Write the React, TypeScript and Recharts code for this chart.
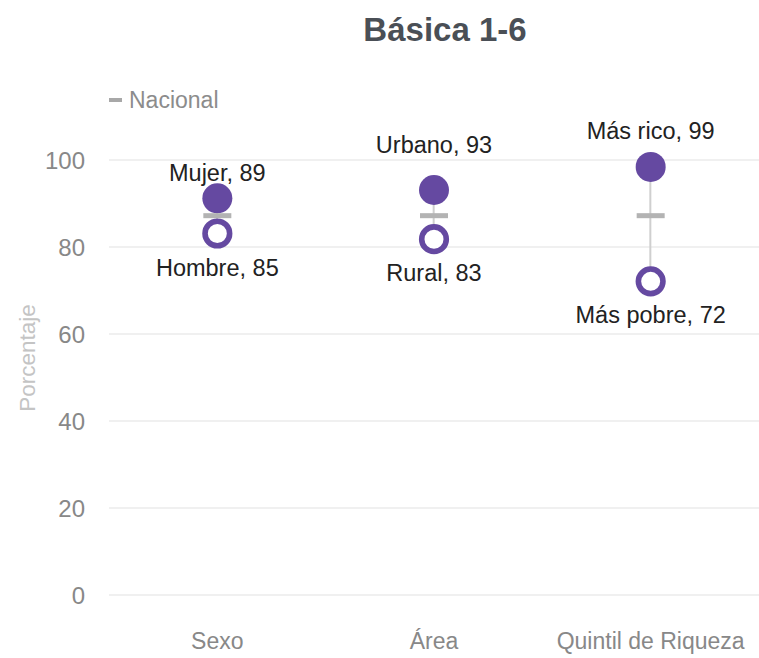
import React from 'react';
import { ComposedChart, Line, Bar, XAxis, YAxis, CartesianGrid } from 'recharts';

const categories = ['Sexo', 'Área', 'Quintil de Riqueza'];
const highValues = [91.2, 93.1, 98.4];
const lowValues = [83.1, 81.8, 72.1];
const nationalValues = [87.2, 87.2, 87.2];
const highLabels = ['Mujer, 89', 'Urbano, 93', 'Más rico, 99'];
const lowLabels = ['Hombre, 85', 'Rural, 83', 'Más pobre, 72'];
const yTicks = [0, 20, 40, 60, 80, 100];

// layout tweaks for label placement (pixels above / below the marker centre)
const topLabelLift = [25, 45, 36];
const bottomLabelDrop = 34;

const data = categories.map((c, i) => ({
  cat: c,
  high: highValues[i],
  low: lowValues[i],
  nat: nationalValues[i],
  range: [lowValues[i], highValues[i]],
}));

const PURPLE = '#6549a1';
const FONT = '"Liberation Sans", Arial, sans-serif';

const HighDot = (props: any) => {
  const { cx, cy, index } = props;
  if (cx == null || cy == null) return <g key={`h${index}`} />;
  return (
    <g key={`h${index}`}>
      <circle cx={cx} cy={cy} r={15} fill={PURPLE} />
      <text x={cx} y={cy - topLabelLift[index] + 8} textAnchor="middle" fontSize={23.5} fill="#222" fontFamily={FONT}>
        {highLabels[index]}
      </text>
    </g>
  );
};

const LowDot = (props: any) => {
  const { cx, cy, index } = props;
  if (cx == null || cy == null) return <g key={`l${index}`} />;
  return (
    <g key={`l${index}`}>
      <circle cx={cx} cy={cy} r={12.3} fill="#fff" stroke={PURPLE} strokeWidth={5.6} />
      <text x={cx} y={cy + bottomLabelDrop + 8} textAnchor="middle" fontSize={23.5} fill="#222" fontFamily={FONT}>
        {lowLabels[index]}
      </text>
    </g>
  );
};

const NatDot = (props: any) => {
  const { cx, cy, index } = props;
  if (cx == null || cy == null) return <g key={`n${index}`} />;
  return <rect key={`n${index}`} x={cx - 14} y={cy - 2.5} width={28} height={5} fill="#b3b3b3" />;
};

export default function App() {
  return (
    <div style={{ position: 'absolute', left: 0, top: 0, width: 759, height: 658, background: '#fff', fontFamily: FONT }}>
      <ComposedChart
        width={759}
        height={658}
        data={data}
        margin={{ top: 160, right: 0, bottom: 0, left: 0 }}
      >
        <CartesianGrid vertical={false} stroke="#ebebeb" strokeWidth={1.5} />
        <XAxis
          dataKey="cat"
          axisLine={false}
          tickLine={false}
          tickSize={0}
          tickMargin={38}
          height={63}
          interval={0}
          tick={{ fill: '#888', fontSize: 23, fontFamily: FONT }}
        />
        <YAxis
          domain={[0, 100]}
          ticks={yTicks}
          axisLine={false}
          tickLine={false}
          tickSize={0}
          tickMargin={24}
          width={109}
          tick={{ fill: '#888', fontSize: 24, fontFamily: FONT }}
        />
        <Bar dataKey="range" barSize={2} fill="#cfcfcf" isAnimationActive={false} />
        <Line dataKey="high" stroke="none" dot={HighDot} activeDot={false} isAnimationActive={false} />
        <Line dataKey="low" stroke="none" dot={LowDot} activeDot={false} isAnimationActive={false} />
        <Line dataKey="nat" stroke="none" dot={NatDot} activeDot={false} isAnimationActive={false} />
      </ComposedChart>
      <svg width={759} height={658} style={{ position: 'absolute', left: 0, top: 0, pointerEvents: 'none' }}>
        <text x={445} y={41} textAnchor="middle" fontSize={33} fontWeight="bold" fill="#4a4f56" fontFamily={FONT}>
          Básica 1-6
        </text>
        <rect x={109} y={98} width={13} height={4} fill="#a8a8a8" />
        <text x={129} y={108} fontSize={23} fill="#8c8c8c" fontFamily={FONT}>
          Nacional
        </text>
        <text transform="translate(35,358) rotate(-90)" textAnchor="middle" fontSize={22.5} fill="#c4c4c4" fontFamily={FONT}>
          Porcentaje
        </text>
      </svg>
    </div>
  );
}
